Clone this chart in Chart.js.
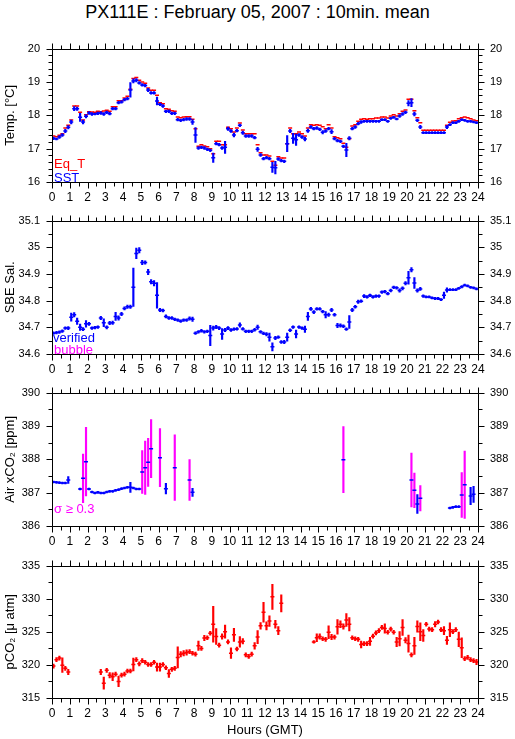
<!DOCTYPE html>
<html>
<head>
<meta charset="utf-8">
<script src="https://cdn.jsdelivr.net/npm/chart.js@4.4.1/dist/chart.umd.min.js"></script>
<style>
html,body{margin:0;padding:0;background:#fff;}
#wrap{position:relative;width:515px;height:739px;overflow:hidden;font-family:"Liberation Sans",Arial,sans-serif;}
#title{position:absolute;left:0;top:0;width:515px;text-align:center;font-size:18px;line-height:24px;color:#000;}
canvas{position:absolute;left:0;}
</style>
</head>
<body>
<div id="wrap">
 <div id="title">PX111E : February 05, 2007 : 10min. mean</div>
 <canvas id="cTemp" width="515" height="180" style="top:30px"></canvas>
 <canvas id="cSal" width="515" height="180" style="top:202px"></canvas>
 <canvas id="cAir" width="515" height="180" style="top:374px"></canvas>
 <canvas id="cPco2" width="515" height="191" style="top:547px"></canvas>
</div>
<script>
// 10 minute means, one row per hour (6 values)
const eqT = [
 17.38,17.36,17.40,17.45,17.62,17.70, 17.86,18.28,18.28,18.09,17.86,18.02,
 18.11,18.10,18.09,18.12,18.11,18.13, 18.15,18.12,18.26,18.26,18.44,18.44,
 18.52,18.57,18.78,19.10,19.13,19.05, 19.00,18.96,18.82,18.75,18.75,18.60,
 18.38,18.35,18.20,18.18,18.14,18.12, 17.95,17.93,17.95,17.96,17.96,17.88,
 17.60,17.07,17.12,17.08,17.06,17.00, 16.85,17.22,17.22,17.12,17.12,17.64,
 17.60,17.50,17.62,17.77,17.56,17.45, 17.45,17.45,17.45,17.12,16.88,16.81,
 16.81,16.78,16.62,16.50,16.76,16.72, 16.72,17.15,17.62,17.45,17.45,17.50,
 17.45,17.38,17.62,17.72,17.70,17.72, 17.70,17.66,17.60,17.72,17.62,17.36,
 17.33,17.30,17.16,17.04,17.30,17.68, 17.72,17.82,17.88,17.90,17.88,17.90,
 17.90,17.92,17.92,17.95,17.95,17.92, 17.98,18.02,17.98,18.05,18.12,18.16,
 18.48,18.48,18.14,17.93,17.78,17.55, 17.55,17.55,17.55,17.55,17.55,17.55,
 17.55,17.70,17.79,17.83,17.84,17.90, 17.93,17.95,17.93,17.90,17.86,17.84
];
const sst = [
 17.31,17.29,17.35,17.41,17.53,17.64, 17.80,18.20,18.20,17.94,17.80,17.97,
 18.07,18.04,18.04,18.06,18.07,18.04, 18.09,18.05,18.20,18.20,18.38,18.40,
 18.47,18.50,18.76,19.03,19.05,18.97, 18.91,18.89,18.76,18.67,18.67,18.43,
 18.33,18.28,18.12,18.12,18.06,18.06, 17.87,17.85,17.87,17.89,17.89,17.80,
 17.41,17.02,17.04,17.02,16.98,16.95, 16.73,17.15,17.12,17.02,17.04,17.60,
 17.53,17.41,17.54,17.70,17.48,17.38, 17.38,17.38,17.33,16.98,16.81,16.70,
 16.73,16.70,16.44,16.43,16.69,16.64, 16.62,17.15,17.53,17.31,17.27,17.41,
 17.35,17.29,17.54,17.65,17.60,17.62, 17.58,17.49,17.53,17.60,17.51,17.30,
 17.24,17.22,17.07,16.96,17.31,17.60, 17.65,17.75,17.80,17.82,17.82,17.82,
 17.82,17.82,17.82,17.87,17.87,17.82, 17.91,17.94,17.89,17.98,18.04,18.09,
 18.36,18.38,18.04,17.85,17.65,17.48, 17.48,17.48,17.48,17.48,17.48,17.48,
 17.48,17.65,17.72,17.78,17.78,17.82, 17.87,17.85,17.82,17.82,17.80,17.78
];
const sstErr = [
 .04,.03,.04,.04,.05,.05, .06,.06,.05,.12,.06,.05,
 .04,.04,.03,.04,.04,.04, .04,.04,.04,.04,.04,.04,
 .04,.04,.22,.06,.05,.04, .04,.04,.05,.04,.04,.12,
 .04,.04,.04,.04,.04,.04, .04,.04,.04,.04,.04,.07,
 .22,.04,.04,.04,.04,.04, .14,.04,.04,.04,.18,.05,
 .04,.06,.04,.04,.05,.04, .04,.04,.04,.06,.04,.04,
 .04,.04,.15,.19,.04,.04, .04,.24,.05,.15,.17,.04,
 .04,.06,.05,.04,.04,.04, .04,.05,.04,.04,.06,.04,
 .04,.04,.04,.20,.05,.04, .04,.04,.04,.03,.03,.03,
 .03,.03,.03,.03,.03,.03, .03,.03,.03,.04,.04,.04,
 .08,.12,.06,.04,.05,.03, .03,.03,.03,.03,.03,.03,
 .03,.05,.03,.03,.03,.03, .03,.03,.03,.03,.03,.03
];
const sal = [
 34.678,34.680,34.682,34.686,34.697,34.697, 34.738,34.747,34.723,34.700,34.693,34.713,
 34.713,34.697,34.699,34.701,34.735,34.717, 34.700,34.716,34.717,34.741,34.735,34.750,
 34.771,34.777,34.777,34.850,34.977,34.989, 34.943,34.943,34.907,34.871,34.865,34.820,
 34.765,34.763,34.741,34.735,34.735,34.730, 34.727,34.723,34.727,34.727,34.733,34.730,
 34.678,34.683,34.687,34.683,34.685,34.669, 34.697,34.701,34.697,34.675,34.690,34.697,
 34.690,34.693,34.694,34.709,34.694,34.685, 34.685,34.685,34.691,34.700,34.683,34.677,
 34.674,34.663,34.627,34.660,34.663,34.645, 34.645,34.663,34.689,34.701,34.675,34.701,
 34.697,34.693,34.741,34.769,34.757,34.769, 34.769,34.759,34.747,34.747,34.765,34.747,
 34.707,34.707,34.704,34.693,34.720,34.765, 34.777,34.796,34.798,34.817,34.814,34.820,
 34.814,34.817,34.817,34.832,34.834,34.826, 34.838,34.850,34.848,34.838,34.846,34.865,
 34.886,34.916,34.866,34.838,34.844,34.817, 34.814,34.814,34.810,34.808,34.808,34.804,
 34.820,34.840,34.841,34.841,34.841,34.846, 34.852,34.858,34.855,34.850,34.848,34.844
];
const salErr = [
 .005,.005,.005,.005,.005,.006, .015,.008,.012,.012,.006,.012,
 .006,.005,.005,.005,.006,.015, .006,.006,.006,.015,.008,.006,
 .006,.006,.006,.072,.020,.010, .008,.006,.010,.008,.010,.048,
 .006,.005,.006,.005,.005,.005, .005,.005,.005,.005,.006,.008,
 .005,.005,.005,.005,.005,.038, .008,.006,.006,.020,.006,.006,
 .005,.005,.005,.008,.005,.005, .005,.005,.005,.008,.005,.005,
 .006,.015,.015,.006,.005,.005, .006,.015,.005,.005,.015,.005,
 .005,.012,.015,.006,.006,.005, .005,.005,.012,.006,.006,.005,
 .008,.006,.005,.005,.024,.006, .005,.006,.005,.006,.005,.005,
 .005,.005,.005,.005,.005,.005, .005,.005,.005,.006,.006,.006,
 .024,.008,.020,.006,.006,.005, .004,.004,.004,.004,.004,.004,
 .012,.008,.004,.004,.004,.004, .004,.004,.004,.004,.004,.004
];
const _ = null;
const airCo2 = [
 387.32,387.31,387.30,387.29,387.29,387.38, _,_,_,387.11,387.43,387.93,
 387.11,387.02,386.99,387.01,386.99,386.99, 387.02,387.04,387.04,387.07,387.09,387.12,
 387.14,387.16,387.16,387.14,387.11,387.11, 387.62,387.75,387.91,388.32,_,_,
 388.05,_,387.12,_,_,387.75, _,_,_,_,387.38,387.01,
 _,_,_,_,_,_, _,_,_,_,_,_,
 _,_,_,_,_,_, _,_,_,_,_,_,
 _,_,_,_,_,_, _,_,_,_,_,_,
 _,_,_,_,_,_, _,_,_,_,_,_,
 _,_,387.99,_,_,_, _,_,_,_,_,_,
 _,_,_,_,_,_, _,_,_,_,_,_,
 _,387.38,387.07,386.66,386.83,_, _,_,_,_,_,_,
 _,_,386.54,386.56,386.58,386.58, 386.93,387.24,_,386.90,386.95,_
];
const airSigma = [
 .03,.03,.03,.03,.03,.10, _,_,_,.03,.73,1.03,
 .03,.03,.03,.03,.03,.03, .03,.03,.03,.03,.03,.03,
 .03,.03,.15,.03,.03,.03, .64,.80,.72,.87,_,_,
 .87,_,.16,_,_,.98, _,_,_,_,.61,.12,
 _,_,_,_,_,_, _,_,_,_,_,_,
 _,_,_,_,_,_, _,_,_,_,_,_,
 _,_,_,_,_,_, _,_,_,_,_,_,
 _,_,_,_,_,_, _,_,_,_,_,_,
 _,_,.99,_,_,_, _,_,_,_,_,_,
 _,_,_,_,_,_, _,_,_,_,_,_,
 _,.81,.52,.28,.38,_, _,_,_,_,_,_,
 _,_,.03,.03,.03,.03, .67,1.01,_,.26,.24,_
];
const pco2 = [
 319.82,320.79,321.03,319.96,319.48,318.94, _,_,_,_,_,_,
 _,_,_,_,318.94,317.24, 319.18,318.45,318.20,318.60,317.50,318.45,
 318.60,319.08,319.08,320.06,320.79,320.16, 320.64,320.40,320.06,320.06,320.40,319.67,
 319.67,320.06,319.57,318.70,319.33,319.48, 321.13,321.62,321.76,321.86,322.00,321.76,
 321.62,322.88,322.49,324.05,324.10,324.78, 326.14,324.30,322.98,324.30,325.02,323.47,
 321.76,324.54,322.40,323.47,323.56,321.52, 321.28,321.62,322.88,324.20,325.90,327.94,
 325.90,326.63,330.28,326.14,325.17,329.30, _,_,_,_,_,_,
 _,_,_,_,323.47,324.10, 324.29,323.95,323.86,324.93,324.20,324.20,
 325.75,326.14,325.80,326.78,326.14,324.10, 323.95,323.86,323.08,323.22,323.22,323.56,
 324.34,324.83,325.17,325.66,325.51,324.93, 325.41,324.93,323.47,323.95,325.66,323.71,
 323.22,321.52,322.88,325.80,325.02,324.44, 326.14,325.41,325.32,326.14,326.48,325.32,
 325.17,323.71,325.32,325.02,325.32,323.86, 322.59,320.94,321.13,320.79,320.64,320.45
];
const pco2Err = [
 .3,.3,.3,1.1,.3,.4, _,_,_,_,_,_,
 _,_,_,_,.4,.92, .3,.4,.6,.3,.8,.3,
 .3,.3,.3,.97,.3,.3, .3,.3,.3,.3,.3,.6,
 .6,.3,.3,.6,.3,.3, 1.6,.4,.4,.4,.3,.3,
 .3,.7,.3,.4,.3,.3, 2.7,1.2,.3,.4,1.0,.3,
 .8,1.0,.3,.8,.4,.3, .3,.3,.5,1.0,.5,1.5,
 .6,.8,1.9,.6,.6,1.3, _,_,_,_,_,_,
 _,_,_,_,.2,.6, .4,.3,.3,.97,.4,.3,
 1.1,.5,.4,.97,1.0,.3, .3,.3,.5,.3,.3,.6,
 .3,.3,.3,.3,.7,.3, .3,.3,.7,1.1,1.2,.4,
 1.3,.3,1.3,.85,1.35,.9, .3,.3,.3,.4,.3,.3,
 .6,.6,1.05,.3,.3,1.1, 1.5,.3,.3,.3,.3,.4
];

const FONT = "'Liberation Sans', Arial, Helvetica, sans-serif";
const BLUE = '#0000ff', RED = '#ff0000', MAG = '#ff00ff';
Chart.defaults.font.family = FONT;
Chart.defaults.color = '#000';

const hourOf = i => (i + 0.5) / 6;
const dashes = vals => vals.map((v, i) => v == null ? null : {x: hourOf(i), y: v}).filter(p => p);
const ranges = (vals, errs) => vals.map((v, i) => v == null ? null : {x: hourOf(i), y: [v - errs[i], v + errs[i]], e: errs[i]}).filter(p => p);

function dashSet(vals, color) {
  return {type: 'scatter', data: dashes(vals), pointStyle: 'line', pointRadius: 2,
    pointBorderWidth: 1.5, borderColor: color, backgroundColor: color, showLine: false};
}
function barSet(vals, errs, color) {
  return {type: 'bar', data: ranges(vals, errs), barThickness: 1.5, grouped: false,
    backgroundColor: color, borderWidth: 0};
}

// box + outward ticks, drawn with the chart's scales
const frame = {
  id: 'frame',
  afterDraw(chart, args, o) {
    const {ctx, chartArea: a, scales: {x, y}} = chart;
    const L = Math.round(a.left) + .5, R = Math.round(a.right) + .5;
    const T = Math.round(a.top) + .5, B = Math.round(a.bottom) + .5;
    ctx.save();
    ctx.strokeStyle = '#000'; ctx.lineWidth = 1;
    ctx.beginPath();
    ctx.rect(L, T, R - L, B - T);
    for (let i = 0; i <= 48; i++) {
      const px = Math.round(x.getPixelForValue(i / 2)) + .5;
      const len = i % 2 === 0 ? 6 : 4;
      ctx.moveTo(px, T); ctx.lineTo(px, T - len);
      ctx.moveTo(px, B); ctx.lineTo(px, B + len);
    }
    const n = Math.round((o.max - o.min) / o.minor), every = Math.round(o.step / o.minor);
    for (let i = 0; i <= n; i++) {
      const py = Math.round(y.getPixelForValue(o.min + i * o.minor)) + .5;
      const len = i % every === 0 ? 6 : 4;
      ctx.moveTo(L, py); ctx.lineTo(L - len, py);
      ctx.moveTo(R, py); ctx.lineTo(R + len, py);
    }
    ctx.stroke();
    ctx.restore();
  }
};
const notes = {
  id: 'notes',
  afterDraw(chart, args, o) {
    const {ctx, chartArea: a} = chart;
    ctx.save();
    ctx.font = '13px ' + FONT;
    ctx.textBaseline = 'alphabetic';
    (o.items || []).forEach(n => { ctx.fillStyle = n.color; ctx.fillText(n.text, a.left + n.dx, a.top + n.dy); });
    ctx.restore();
  }
};

function panel(id, p) {
  const fmt = v => String(+v.toFixed(2));
  const yTicks = {stepSize: p.step, padding: 12, font: {size: 11}, callback: fmt};
  return new Chart(document.getElementById(id), {
    type: 'scatter',
    data: {datasets: p.datasets},
    plugins: [frame, notes],
    options: {
      responsive: false, animation: false, events: [],
      layout: {padding: {top: 14, left: 0, right: 0, bottom: 0}},
      plugins: {legend: {display: false}, tooltip: {enabled: false},
        frame: {min: p.min, max: p.max, step: p.step, minor: p.minor},
        notes: {items: p.notes}},
      scales: {
        x: {type: 'linear', min: 0, max: 24, offset: false,
          grid: {display: false, drawTicks: false}, border: {display: false},
          ticks: {stepSize: 1, autoSkip: false, maxRotation: 0, padding: 8, font: {size: 12}},
          title: {display: !!p.xTitle, text: p.xTitle || '', font: {size: 13}, padding: 0},
          afterFit: s => { s.height = p.xTitle ? 40 : 28; }},
        y: {type: 'linear', position: 'left', min: p.min, max: p.max,
          grid: {display: false, drawTicks: false}, border: {display: false}, ticks: yTicks,
          title: {display: true, text: p.title, font: {size: 13}, padding: {top: 3, bottom: 0}},
          afterFit: s => { s.width = 52; }},
        y2: {type: 'linear', position: 'right', min: p.min, max: p.max,
          grid: {display: false, drawTicks: false}, border: {display: false}, ticks: yTicks,
          afterFit: s => { s.width = 37; }}
      }
    }
  });
}

panel('cTemp', {min: 16, max: 20, step: 1, minor: 0.2, title: 'Temp. [°C]',
  datasets: [dashSet(sst, BLUE), barSet(sst, sstErr, BLUE), dashSet(eqT, RED)],
  notes: [{text: 'Eq_T', color: RED, dx: 2, dy: 119}, {text: 'SST', color: BLUE, dx: 2, dy: 133}]});

panel('cSal', {min: 34.6, max: 35.1, step: 0.1, minor: 0.05, title: 'SBE Sal.',
  datasets: [dashSet(sal, BLUE), barSet(sal, salErr, BLUE)],
  notes: [{text: 'verified', color: BLUE, dx: 1, dy: 121}, {text: 'bubble', color: MAG, dx: 2, dy: 133}]});

const airBars = barSet(airCo2, airSigma, BLUE);
airBars.backgroundColor = c => (c.raw && c.raw.e >= 0.3) ? MAG : BLUE;
panel('cAir', {min: 386, max: 390, step: 1, minor: 0.5, title: 'Air xCO₂ [ppm]',
  datasets: [dashSet(airCo2, BLUE), airBars],
  notes: [{text: 'σ ≥ 0.3', color: MAG, dx: 2, dy: 120}]});

panel('cPco2', {min: 315, max: 335, step: 5, minor: 2.5, title: 'pCO₂ [μ atm]', xTitle: 'Hours (GMT)',
  datasets: [dashSet(pco2, RED), barSet(pco2, pco2Err, RED)], notes: []});
</script>
</body>
</html>
